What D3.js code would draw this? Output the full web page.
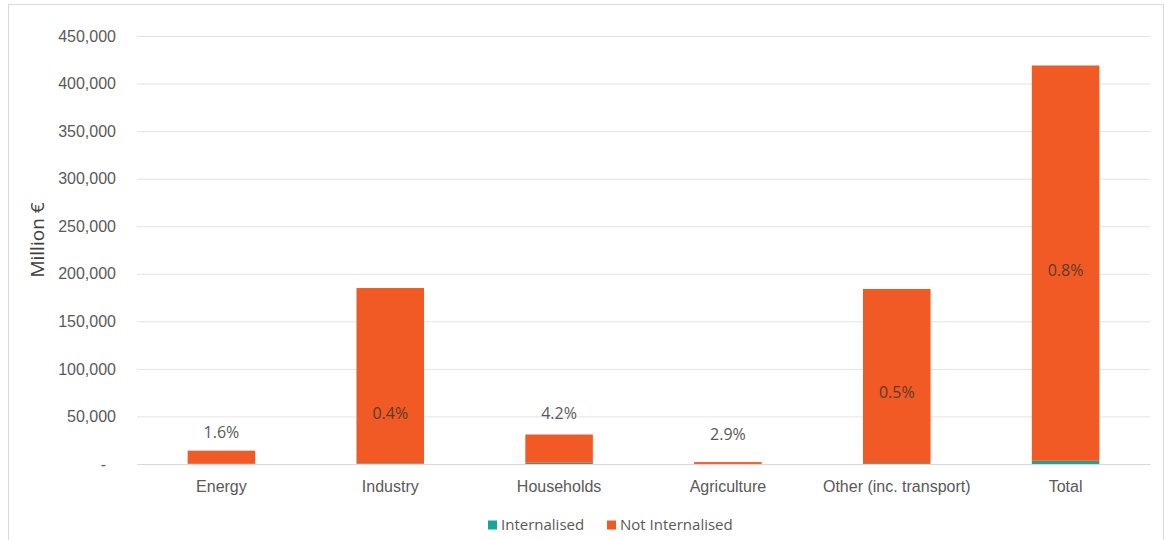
<!DOCTYPE html>
<html>
<head>
<meta charset="utf-8">
<script src="https://cdn.jsdelivr.net/npm/d3@7"></script>
<style>
  html, body { margin: 0; padding: 0; background: #ffffff; }
  svg { display: block; font-family: "Open Sans", "Noto Sans", sans-serif; }
</style>
</head>
<body>
<svg id="chart" width="1164" height="540"></svg>
<script>
// Sectors and external costs (million €), split into internalised / not internalised
const categories = ["Energy", "Industry", "Households", "Agriculture", "Other (inc. transport)", "Total"];
const internalised = [224, 740, 1302, 58, 920, 3350];
const notInternalised = [13776, 184260, 29698, 1942, 183080, 415650];
const seriesNames = ["Internalised", "Not Internalised"];
const yTicks = [0, 50000, 100000, 150000, 200000, 250000, 300000, 350000, 400000, 450000];

const colors = { "Internalised": "#17a59a", "Not Internalised": "#f15a24" };

const svg = d3.select("#chart");
const W = 1164, H = 540;
const margin = { top: 36, right: 14, bottom: 76, left: 137 };
const plotW = W - margin.left - margin.right;
const plotH = H - margin.top - margin.bottom;

// outer frame
svg.append("rect")
  .attr("x", 8.5).attr("y", 4.5)
  .attr("width", W - 9).attr("height", H - 4)
  .attr("fill", "none").attr("stroke", "#d9d9d9");

const g = svg.append("g").attr("transform", `translate(${margin.left},${margin.top})`);

const x = d3.scaleBand().domain(categories).range([0, plotW]).paddingInner(0.6).paddingOuter(0.3);
const y = d3.scaleLinear().domain([0, 450000]).range([plotH, 0]);

// gridlines + y tick labels
const yAxis = d3.axisLeft(y)
  .tickValues(yTicks)
  .tickSize(-plotW)
  .tickPadding(21)
  .tickFormat(d => d === 0 ? "-" : d3.format(",")(d));

const yg = g.append("g").call(yAxis);
yg.select(".domain").remove();
yg.selectAll(".tick line").attr("stroke", "#e3e3e3").attr("stroke-width", 1);
yg.selectAll(".tick text")
  .attr("fill", "#595959")
  .attr("font-size", 16)
  .attr("dx", d => d === 0 ? -10 : 0);

// stacked bars
const rows = categories.map((c, i) => ({
  category: c,
  "Internalised": internalised[i],
  "Not Internalised": notInternalised[i]
}));
const stack = d3.stack().keys(seriesNames)(rows);

g.append("g").selectAll("g")
  .data(stack)
  .join("g")
  .attr("fill", d => colors[d.key])
  .selectAll("rect")
  .data(d => d)
  .join("rect")
  .attr("x", d => x(d.data.category))
  .attr("width", x.bandwidth())
  .attr("y", d => y(d[1]))
  .attr("height", d => y(d[0]) - y(d[1]));

// category axis
const xg = g.append("g")
  .attr("transform", `translate(0,${plotH})`)
  .call(d3.axisBottom(x).tickSize(0).tickPadding(17));
xg.select(".domain").attr("stroke", "#d9d9d9");
xg.selectAll(".tick text").attr("fill", "#595959").attr("font-size", 16);

// share-internalised labels; vertical placement (value units) per sector
const labelAt = [33500, 53500, 53500, 31500, 75500, 204000];
const fmtPct = d3.format(".1%");
g.append("g").selectAll("text")
  .data(rows)
  .join("text")
  .attr("x", d => x(d.category) + x.bandwidth() / 2)
  .attr("y", (d, i) => y(labelAt[i]))
  .attr("dy", "0.35em")
  .attr("text-anchor", "middle")
  .attr("font-size", 16)
  .attr("fill", (d, i) => y(labelAt[i]) > y(d["Internalised"] + d["Not Internalised"]) ? "#5b3a2c" : "#595959")
  .text(d => fmtPct(d["Internalised"] / (d["Internalised"] + d["Not Internalised"])));

// y axis title
svg.append("text")
  .attr("transform", "translate(37,240) rotate(-90)")
  .attr("text-anchor", "middle")
  .attr("dy", "0.35em")
  .attr("font-size", 19)
  .attr("fill", "#404040")
  .text("Million €");

// legend
const legend = svg.append("g").attr("transform", "translate(488,525)");
const items = [{ name: "Internalised", x: 0 }, { name: "Not Internalised", x: 119 }];
items.forEach(it => {
  legend.append("rect")
    .attr("x", it.x).attr("y", -4.5)
    .attr("width", 9).attr("height", 9)
    .attr("fill", colors[it.name]);
  legend.append("text")
    .attr("x", it.x + 13).attr("y", 0)
    .attr("dy", "0.35em")
    .attr("font-size", 15)
    .attr("fill", "#595959")
    .text(it.name);
});
</script>
</body>
</html>
